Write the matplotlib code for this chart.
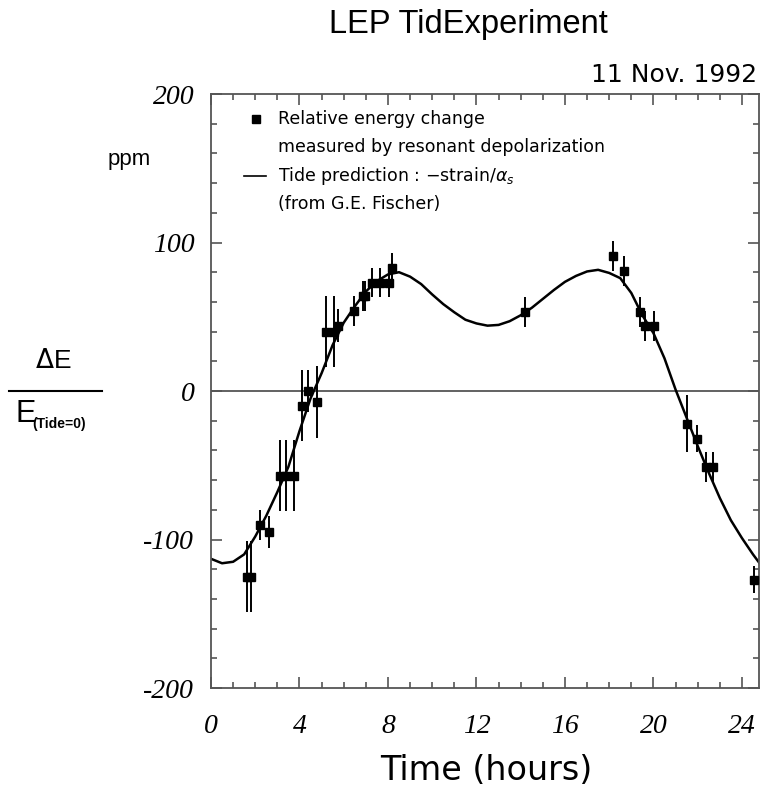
import matplotlib.pyplot as plt
import matplotlib.lines as mlines
from matplotlib.ticker import MultipleLocator

plt.rcParams['axes.unicode_minus'] = False

# measured points (hours, ppm, error)
time = [1.61, 1.81, 2.23, 2.60, 3.13, 3.39, 3.73, 4.12, 4.38, 4.80,
        5.22, 5.54, 5.75, 6.46, 6.88, 6.98, 7.28, 7.66, 8.04, 8.19,
        14.21, 18.16, 18.66, 19.41, 19.63, 20.03, 21.50, 21.95, 22.38,
        22.71, 24.56]
dE = [-125, -125, -90, -95, -57, -57, -57, -10, 0, -7.5,
      40, 40, 44, 54, 64, 64, 73, 73, 73, 83,
      53, 91, 81, 53, 44, 44, -22, -32, -51,
      -51, -127]
err = [24, 24, 10, 11, 24, 24, 24, 24, 14, 24,
       24, 24, 11, 10, 10, 10, 10, 10, 10, 10,
       10, 10, 10, 10, 10, 10, 19, 9, 10,
       10, 9]

# tide prediction
tide_t = [0.0, 0.5, 1.0, 1.5, 2.0, 2.5, 3.0, 3.5, 4.0, 4.5,
          5.0, 5.5, 6.0, 6.5, 7.0, 7.5, 8.0, 8.5, 9.0, 9.5,
          10.0, 10.5, 11.0, 11.5, 12.0, 12.5, 13.0, 13.5, 14.0, 14.5,
          15.0, 15.5, 16.0, 16.5, 17.0, 17.5, 18.0, 18.5, 19.0, 19.5,
          20.0, 20.5, 21.0, 21.5, 22.0, 22.5, 23.0, 23.5, 24.0, 24.5, 24.8]
tide_v = [-113, -116, -115, -110, -98, -84, -68, -51, -27, -5,
          12, 31, 46, 57, 67, 74, 78.5, 80, 77, 72,
          65, 58.5, 53, 48, 45.5, 44, 44.5, 47, 51, 56,
          62, 68, 73.5, 77.5, 80.5, 81.6, 79.5, 76, 66, 51,
          39, 22, 1, -18, -37, -55, -72, -87, -99, -110, -116]

xticks = [0, 4, 8, 12, 16, 20, 24]
yticks = [-200, -100, 0, 100, 200]

lib = ['Liberation Sans', 'DejaVu Sans']
dej = ['DejaVu Sans']
serif = 'Liberation Serif'
spine_col = '#555555'

fig = plt.figure(figsize=(7.6, 7.99), dpi=100)
ax = fig.add_axes([211 / 760, 1 - 688 / 799, 547.5 / 760, 594 / 799])

ax.axhline(0, color=spine_col, lw=1.3, zorder=1)
ax.plot(tide_t, tide_v, color='black', lw=1.8, zorder=2)
ax.errorbar(time, dE, yerr=err, fmt='s', color='black', ms=5.6,
            elinewidth=1.4, capsize=0, zorder=3)

ax.set_xlim(0, 24.75)
ax.set_ylim(-200, 200)
ax.set_xticks(xticks)
ax.set_yticks(yticks)
ax.xaxis.set_minor_locator(MultipleLocator(1))
ax.yaxis.set_minor_locator(MultipleLocator(20))
ax.tick_params(which='both', direction='in', top=True, right=True,
               color=spine_col, width=1.2)
ax.tick_params(which='major', length=8)
ax.tick_params(which='minor', length=4.5)
ax.tick_params(axis='x', pad=19)
ax.tick_params(axis='y', pad=12)
for s in ax.spines.values():
    s.set_color(spine_col)
    s.set_linewidth(1.3)
for lab in ax.get_xticklabels() + ax.get_yticklabels():
    lab.set_fontfamily(serif)
    lab.set_fontstyle('italic')
    lab.set_fontsize(20)

# legend drawn by hand
ax.plot([0.082], [0.958], 's', color='black', ms=5.2, transform=ax.transAxes)
ax.plot([0.06, 0.1], [0.862, 0.862], color='black', lw=1.2, transform=ax.transAxes)
tx = 0.122
ax.text(tx, 0.958, 'Relative energy change', transform=ax.transAxes,
        va='center', fontsize=12.5, family=dej)
ax.text(tx, 0.911, 'measured by resonant depolarization', transform=ax.transAxes,
        va='center', fontsize=12.5, family=dej)
ax.text(tx, 0.862, 'Tide prediction : $-$strain/$\\alpha_s$', transform=ax.transAxes,
        va='center', fontsize=12.5, family=dej)
ax.text(tx, 0.815, '(from G.E. Fischer)', transform=ax.transAxes,
        va='center', fontsize=12.5, family=dej)

fig.text(468 / 760, 1 - 25 / 799, 'LEP TidExperiment', ha='center', va='center',
         fontsize=23.5, family=lib)
fig.text(757 / 760, 1 - 75 / 799, '11 Nov. 1992', ha='right', va='center',
         fontsize=18, family=dej)
fig.text(129 / 760, 1 - 160 / 799, 'ppm', ha='center', va='center',
         fontsize=16, family=lib)
fig.text(486 / 760, 1 - 770 / 799, 'Time (hours)', ha='center', va='center',
         fontsize=24, family=dej)

# y label as a fraction
fig.text(53 / 760, 1 - 361 / 799, '$\\Delta$E', ha='center', va='center',
         fontsize=19, family=lib)
fig.add_artist(mlines.Line2D([9 / 760, 102 / 760], [1 - 391 / 799, 1 - 391 / 799],
                             color='black', lw=1.5))
fig.text(15 / 760, 1 - 414 / 799, 'E', ha='left', va='center',
         fontsize=22, family=lib)
fig.text(32 / 760, 1 - 424 / 799, '(Tide=0)', ha='left', va='center',
         fontsize=10, fontweight='bold', family=lib)

fig.savefig('out.png', dpi=100)
